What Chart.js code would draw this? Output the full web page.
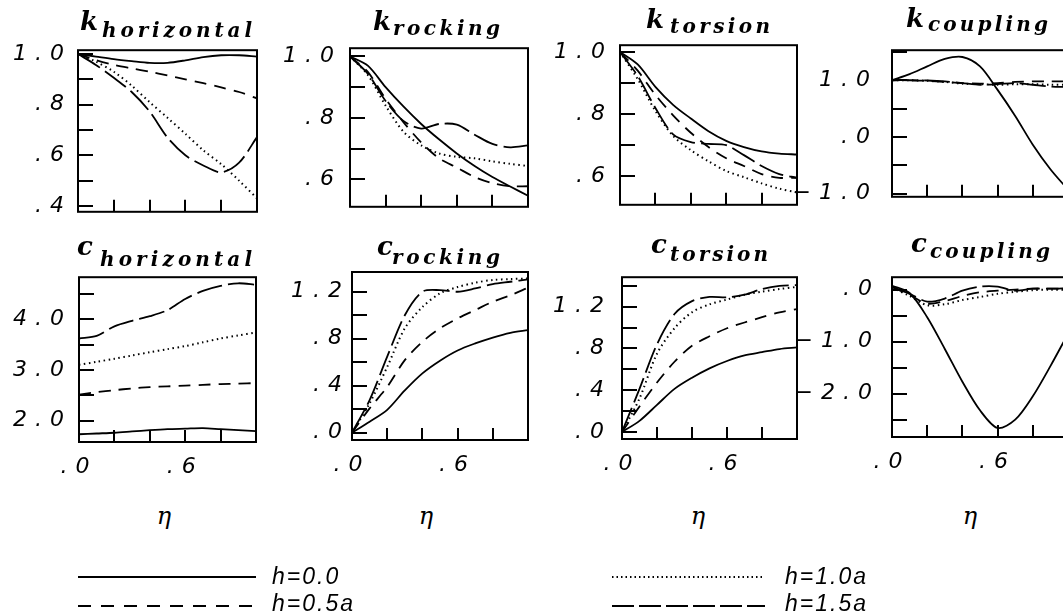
<!DOCTYPE html>
<html>
<head>
<meta charset="utf-8">
<title>Impedance functions vs eta</title>
<script src="https://cdn.jsdelivr.net/npm/chart.js@4.4.1/dist/chart.umd.min.js"></script>
<style>
  html, body { margin: 0; padding: 0; background: #fff; }
  #page { position: relative; width: 1063px; height: 615px; overflow: hidden; background: #fff; }
  #page canvas { position: absolute; }
  .txt { position: absolute; left: 0; top: 0; white-space: nowrap; color: #000; line-height: 1.2; }
  .main { font-family: "DejaVu Serif"; font-style: italic; font-weight: bold; font-size: 26px; }
  .sub { font-family: "DejaVu Serif"; font-style: italic; font-weight: bold; font-size: 20px; }
  .eta { font-family: "DejaVu Serif"; font-style: italic; font-size: 24px; }
  .leg { font-family: "Liberation Sans"; font-style: italic; font-size: 23px; letter-spacing: 2px; }
  #legend { position: absolute; left: 0; top: 0; }
</style>
</head>
<body>
<div id="page"></div>
<script>
// frequency parameter eta, same for every panel
const eta = [0, 0.1, 0.2, 0.3, 0.4, 0.5, 0.6, 0.7, 0.8, 0.9, 1.0];
const seriesNames = ['h=0.0', 'h=0.5a', 'h=1.0a', 'h=1.5a'];

// k horizontal
const kHor00 = [1.0, 0.99, 0.98, 0.972, 0.965, 0.965, 0.975, 0.988, 0.995, 0.995, 0.99];
const kHor05 = [1.0, 0.976, 0.957, 0.943, 0.93, 0.915, 0.90, 0.885, 0.868, 0.85, 0.825];
const kHor10 = [1.0, 0.97, 0.93, 0.875, 0.81, 0.748, 0.685, 0.62, 0.565, 0.50, 0.43];
const kHor15 = [1.0, 0.957, 0.906, 0.85, 0.773, 0.67, 0.60, 0.56, 0.533, 0.571, 0.672];
// k rocking
const kRoc00 = [1.0, 0.97, 0.90, 0.837, 0.78, 0.73, 0.684, 0.643, 0.607, 0.576, 0.546];
const kRoc05 = [1.0, 0.95, 0.862, 0.786, 0.72, 0.668, 0.638, 0.607, 0.587, 0.577, 0.577];
const kRoc10 = [1.0, 0.94, 0.84, 0.755, 0.71, 0.684, 0.673, 0.668, 0.658, 0.65, 0.643];
const kRoc15 = [1.0, 0.944, 0.855, 0.79, 0.765, 0.78, 0.778, 0.745, 0.715, 0.704, 0.71];
// k torsion
const kTor00 = [1.0, 0.96, 0.888, 0.83, 0.786, 0.745, 0.714, 0.694, 0.68, 0.673, 0.67];
const kTor05 = [1.0, 0.94, 0.862, 0.796, 0.74, 0.694, 0.658, 0.633, 0.607, 0.595, 0.595];
const kTor10 = [1.0, 0.913, 0.81, 0.73, 0.684, 0.648, 0.617, 0.597, 0.577, 0.56, 0.548];
const kTor15 = [1.0, 0.923, 0.82, 0.735, 0.71, 0.704, 0.70, 0.668, 0.633, 0.607, 0.595];
// k coupling
const kCou00 = [1.0, 1.107, 1.244, 1.376, 1.41, 1.244, 0.83, 0.37, -0.137, -0.57, -0.93];
const kCou05 = [1.0, 1.0, 0.99, 0.97, 0.95, 0.94, 0.95, 0.97, 0.98, 0.98, 0.98];
const kCou10 = [1.0, 1.0, 0.99, 0.97, 0.94, 0.93, 0.92, 0.93, 0.93, 0.92, 0.92];
const kCou15 = [1.0, 1.0, 0.995, 0.98, 0.95, 0.92, 0.93, 0.95, 0.92, 0.89, 0.88];
// c horizontal
const cHor00 = [1.73, 1.745, 1.76, 1.785, 1.81, 1.83, 1.84, 1.85, 1.83, 1.81, 1.79];
const cHor05 = [2.51, 2.56, 2.6, 2.635, 2.66, 2.675, 2.69, 2.705, 2.72, 2.73, 2.74];
const cHor10 = [3.10, 3.16, 3.22, 3.285, 3.35, 3.41, 3.47, 3.545, 3.62, 3.68, 3.74];
const cHor15 = [3.62, 3.67, 3.86, 3.97, 4.06, 4.18, 4.40, 4.56, 4.66, 4.71, 4.68];
// c rocking
const cRoc00 = [0, 0.094, 0.195, 0.36, 0.505, 0.613, 0.70, 0.76, 0.81, 0.85, 0.874];
const cRoc05 = [0, 0.207, 0.39, 0.618, 0.774, 0.888, 0.973, 1.044, 1.115, 1.17, 1.234];
const cRoc10 = [0, 0.25, 0.56, 0.888, 1.07, 1.186, 1.24, 1.277, 1.30, 1.308, 1.313];
const cRoc15 = [0, 0.278, 0.647, 1.0, 1.2, 1.214, 1.2, 1.228, 1.265, 1.285, 1.305];
// c torsion
const cTor00 = [0, 0.107, 0.26, 0.413, 0.52, 0.61, 0.68, 0.734, 0.765, 0.795, 0.81];
const cTor05 = [0, 0.245, 0.474, 0.673, 0.826, 0.917, 0.994, 1.049, 1.10, 1.147, 1.177];
const cTor10 = [0, 0.321, 0.75, 0.994, 1.147, 1.223, 1.269, 1.315, 1.345, 1.37, 1.39];
const cTor15 = [0, 0.413, 0.84, 1.13, 1.254, 1.294, 1.29, 1.315, 1.37, 1.40, 1.407];
// c coupling
const cCou00 = [0.076, -0.064, -0.53, -1.14, -1.77, -2.32, -2.66, -2.5, -2.05, -1.47, -0.85];
const cCou05 = [0.05, -0.1, -0.27, -0.22, -0.12, -0.05, -0.02, 0.0, 0.02, 0.02, 0.02];
const cCou10 = [0.04, -0.12, -0.3, -0.28, -0.2, -0.14, -0.08, -0.04, -0.01, 0.0, 0.0];
const cCou15 = [0.05, -0.08, -0.23, -0.17, -0.02, 0.06, 0.06, -0.02, 0.02, 0.02, 0.03];

// x tick labels shown on the bottom row
const xLabelVals = [0, 0.6];

const dashes = [[], [12, 8], [1.5, 3.5], [26, 6]];

// box = plot frame [left, top, right, bottom] in page px
const panels = [
  { box: [78, 47, 257, 215], y: [0.377, 1.015], step: 0.1, lab: 0.2, gap: 16, sets: [kHor00, kHor05, kHor10, kHor15] },
  { box: [350, 43, 528, 212], y: [0.51, 1.027], step: 0.1, lab: 0.2, gap: 18, sets: [kRoc00, kRoc05, kRoc10, kRoc15] },
  { box: [620, 41, 797, 209], y: [0.508, 1.022], step: 0.1, lab: 0.2, gap: 17, sets: [kTor00, kTor05, kTor10, kTor15] },
  { box: [892, 39, 1068, 208], y: [-1.057, 1.53], step: 0.5, lab: 1.0, gap: 24, sets: [kCou00, kCou05, kCou10, kCou15] },
  { box: [79, 273, 256, 442], y: [1.577, 4.83], step: 0.5, lab: 1.0, gap: 17, bottom: true, sets: [cHor00, cHor05, cHor10, cHor15] },
  { box: [352, 272, 528, 440], y: [-0.062, 1.368], step: 0.2, lab: 0.4, gap: 12, bottom: true, sets: [cRoc00, cRoc05, cRoc10, cRoc15] },
  { box: [622, 270, 797, 439], y: [-0.067, 1.483], step: 0.2, lab: 0.4, gap: 20, bottom: true, sets: [cTor00, cTor05, cTor10, cTor15] },
  { box: [892, 268, 1068, 437], y: [-2.833, 0.24], step: 0.5, lab: 1.0, gap: 22, bottom: true, sets: [cCou00, cCou05, cCou10, cCou15] }
];

const titles = [
  { main: 'k', sub: 'horizontal', mx: 80, my: 30, sx: 102, sy: 37, sw: 150 },
  { main: 'k', sub: 'rocking', mx: 373, my: 30, sx: 393, sy: 35, sw: 107 },
  { main: 'k', sub: 'torsion', mx: 646, my: 28, sx: 670, sy: 33, sw: 100 },
  { main: 'k', sub: 'coupling', mx: 906, my: 27, sx: 928, sy: 31, sw: 120 },
  { main: 'c', sub: 'horizontal', mx: 77, my: 255, sx: 100, sy: 266, sw: 152 },
  { main: 'c', sub: 'rocking', mx: 377, my: 255, sx: 392, sy: 264, sw: 108 },
  { main: 'c', sub: 'torsion', mx: 651, my: 253, sx: 670, sy: 261, sw: 98 },
  { main: 'c', sub: 'coupling', mx: 911, my: 252, sx: 930, sy: 258, sw: 120 }
];

const page = document.getElementById('page');
const LEFT = 100, PAD = 16, SPACING = 8;
const tickFont = { family: 'DejaVu Sans', style: 'italic', size: 22 };

function fmt(v) {
  let s = Math.abs(v).toFixed(1);
  if (s[0] === '0') s = s.slice(1);
  return (v < -1e-9 ? '\u2212' : '') + s;
}
function onStep(v, s) {
  return Math.abs(v / s - Math.round(v / s)) < 1e-6;
}

const framePlugin = {
  id: 'frame',
  beforeDraw(chart) { chart.ctx.letterSpacing = SPACING + 'px'; },
  afterDraw(chart) {
    const { ctx, chartArea: a, scales: { x, y } } = chart;
    ctx.save();
    ctx.letterSpacing = '0px';
    ctx.setLineDash([]);
    ctx.strokeStyle = '#000';
    ctx.lineWidth = 2;
    ctx.strokeRect(a.left, a.top, a.right - a.left, a.bottom - a.top);
    ctx.beginPath();
    y.ticks.forEach(t => {
      const py = Math.round(y.getPixelForValue(t.value));
      ctx.moveTo(a.left, py); ctx.lineTo(a.left + 15, py);
    });
    x.ticks.forEach(t => {
      if (t.value <= 0.001 || t.value >= 0.999) return;
      const px = Math.round(x.getPixelForValue(t.value));
      ctx.moveTo(px, a.bottom); ctx.lineTo(px, a.bottom - 12);
    });
    ctx.stroke();
    ctx.restore();
  }
};

panels.forEach(p => {
  const [l, t, r, b] = p.box;
  const xh = p.bottom ? 50 : PAD;
  const cv = document.createElement('canvas');
  const w = (r - l) + LEFT + PAD, h = (b - t) + PAD + xh;
  cv.style.left = (l - LEFT) + 'px';
  cv.style.top = (t - PAD) + 'px';
  cv.style.width = w + 'px';
  cv.style.height = h + 'px';
  cv.width = w; cv.height = h;
  page.appendChild(cv);

  new Chart(cv, {
    type: 'line',
    data: {
      datasets: p.sets.map((vals, i) => ({
        label: seriesNames[i],
        data: vals.map((v, j) => ({ x: eta[j], y: v })),
        borderColor: '#000',
        borderWidth: i === 2 ? 2 : 1.8,
        borderDash: dashes[i],
        pointRadius: 0,
        tension: 0.3,
        fill: false
      }))
    },
    options: {
      responsive: false,
      animation: false,
      events: [],
      layout: { autoPadding: false, padding: { left: 0, top: PAD, right: PAD, bottom: 0 } },
      plugins: { legend: { display: false }, tooltip: { enabled: false } },
      scales: {
        x: {
          type: 'linear', min: 0, max: 1,
          grid: { display: false, drawTicks: false },
          border: { display: false },
          afterFit: s => { s.height = xh; },
          ticks: {
            stepSize: 0.2, autoSkip: false, maxRotation: 0, padding: 12,
            color: '#000',
            font: tickFont,
            callback: v => (p.bottom && xLabelVals.some(q => Math.abs(q - v) < 1e-6)) ? fmt(v) : ''
          }
        },
        y: {
          type: 'linear', min: p.y[0], max: p.y[1],
          grid: { display: false, drawTicks: false },
          border: { display: false },
          afterFit: s => { s.width = LEFT; },
          ticks: {
            stepSize: p.step, includeBounds: false, autoSkip: false,
            padding: Math.max(0, p.gap - SPACING - 2),
            color: '#000',
            font: tickFont,
            callback: v => onStep(v, p.lab) ? fmt(v) : ''
          }
        }
      }
    },
    plugins: [framePlugin]
  });
});

// text helper: places a span so its baseline sits at `base`, optionally stretched to width
function placeText(cls, str, x, base, width, center) {
  const el = document.createElement('span');
  el.className = 'txt ' + cls;
  el.textContent = str;
  const mark = document.createElement('span');
  mark.style.cssText = 'display:inline-block;width:0;height:0;vertical-align:baseline;';
  el.appendChild(mark);
  page.appendChild(el);
  if (width && str.length > 1) {
    const w0 = el.getBoundingClientRect().width;
    el.style.letterSpacing = Math.max(0, (width - w0) / (str.length - 1)) + 'px';
  }
  const off = mark.getBoundingClientRect().top - el.getBoundingClientRect().top;
  const ew = el.getBoundingClientRect().width;
  el.style.left = (center ? x - ew / 2 : x) + 'px';
  el.style.top = (base - off) + 'px';
  return el;
}

titles.forEach(tt => {
  placeText('main', tt.main, tt.mx, tt.my);
  placeText('sub', tt.sub, tt.sx, tt.sy, tt.sw);
});

[164, 426, 698, 970].forEach(cx => placeText('eta', '\u03b7', cx, 524, 0, true));

// legend
const svgNS = 'http://www.w3.org/2000/svg';
const svg = document.createElementNS(svgNS, 'svg');
svg.setAttribute('id', 'legend');
svg.setAttribute('width', 1063);
svg.setAttribute('height', 615);
page.appendChild(svg);
const legendItems = [
  { x1: 78, x2: 256, y: 577, tx: 272, tb: 584 },
  { x1: 78, x2: 254, y: 606, tx: 272, tb: 611 },
  { x1: 612, x2: 765, y: 577, tx: 785, tb: 584 },
  { x1: 612, x2: 765, y: 606, tx: 785, tb: 611 }
];
const legendDash = [[], [13, 10], [1.5, 3], [22, 5]];
legendItems.forEach((it, i) => {
  const ln = document.createElementNS(svgNS, 'line');
  ln.setAttribute('x1', it.x1); ln.setAttribute('x2', it.x2);
  ln.setAttribute('y1', it.y); ln.setAttribute('y2', it.y);
  ln.setAttribute('stroke', '#000');
  ln.setAttribute('stroke-width', 2);
  if (legendDash[i].length) ln.setAttribute('stroke-dasharray', legendDash[i].join(' '));
  svg.appendChild(ln);
  placeText('leg', seriesNames[i], it.tx, it.tb);
});
</script>
</body>
</html>
